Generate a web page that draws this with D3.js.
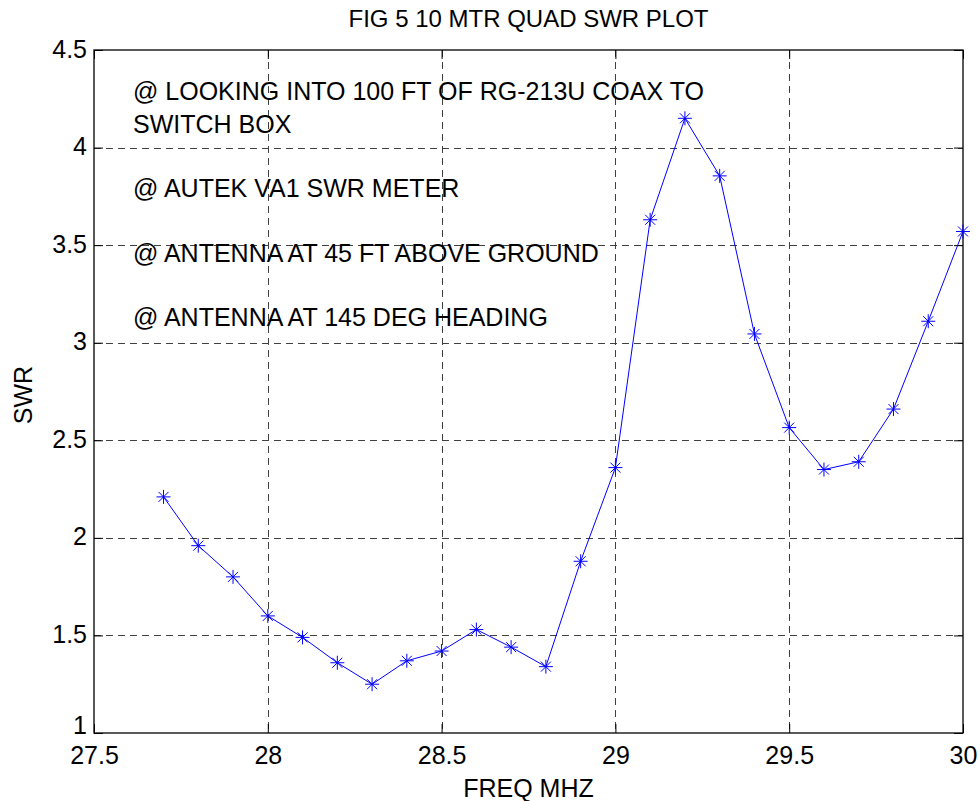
<!DOCTYPE html>
<html>
<head>
<meta charset="utf-8">
<script src="https://cdn.jsdelivr.net/npm/d3@7"></script>
<style>
  body { margin: 0; background: #fff; }
  svg { display: block; font-family: "Liberation Sans", Arial, sans-serif; }
</style>
</head>
<body>
<script>
// frequency (MHz) and measured SWR
const freq = [27.7, 27.8, 27.9, 28.0, 28.1, 28.2, 28.3, 28.4, 28.5, 28.6, 28.7, 28.8,
              28.9, 29.0, 29.1, 29.2, 29.3, 29.4, 29.5, 29.6, 29.7, 29.8, 29.9, 30.0];
const swr = [2.21, 1.96, 1.80, 1.60, 1.49, 1.36, 1.25, 1.37, 1.42, 1.53, 1.44, 1.34,
             1.88, 2.36, 3.63, 4.15, 3.855, 3.045, 2.565, 2.35, 2.39, 2.66, 3.11, 3.57];
const xTicks = [27.5, 28, 28.5, 29, 29.5, 30];
const yTicks = [1, 1.5, 2, 2.5, 3, 3.5, 4, 4.5];
const notes = [
  ["@ LOOKING INTO 100 FT OF RG-213U COAX TO", "SWITCH BOX"],
  ["@ AUTEK VA1 SWR METER"],
  ["@ ANTENNA AT 45 FT ABOVE GROUND"],
  ["@ ANTENNA AT 145 DEG HEADING"]
];

const width = 980, height = 801;
const margin = { left: 94, right: 17, top: 50, bottom: 68 };
const plotW = width - margin.left - margin.right;
const plotH = height - margin.top - margin.bottom;

const svg = d3.select("body").append("svg")
  .attr("width", width)
  .attr("height", height);

const x = d3.scaleLinear().domain([27.5, 30]).range([margin.left, margin.left + plotW]);
const y = d3.scaleLinear().domain([1, 4.5]).range([margin.top + plotH, margin.top]);

const fmt = d => String(d);

// grid
const grid = svg.append("g")
  .attr("stroke", "#404040")
  .attr("stroke-width", 1)
  .attr("stroke-dasharray", "7,5");
grid.selectAll(".gx")
  .data(xTicks.slice(1, -1))
  .join("line")
  .attr("x1", d => Math.round(x(d)) + 0.5).attr("x2", d => Math.round(x(d)) + 0.5)
  .attr("y1", margin.top).attr("y2", margin.top + plotH);
grid.selectAll(".gy")
  .data(yTicks.slice(1, -1))
  .join("line")
  .attr("y1", d => Math.round(y(d)) + 0.5).attr("y2", d => Math.round(y(d)) + 0.5)
  .attr("x1", margin.left).attr("x2", margin.left + plotW);

// axes (ticks inside, labels outside)
const tickLen = 9;
const axisBottom = svg.append("g")
  .attr("transform", `translate(0,${margin.top + plotH})`)
  .call(d3.axisBottom(x).tickValues(xTicks).tickFormat(fmt).tickSizeInner(-tickLen).tickSizeOuter(0).tickPadding(13));
const axisTop = svg.append("g")
  .attr("transform", `translate(0,${margin.top})`)
  .call(d3.axisTop(x).tickValues(xTicks).tickFormat("").tickSizeInner(-tickLen).tickSizeOuter(0));
const axisLeft = svg.append("g")
  .attr("transform", `translate(${margin.left},0)`)
  .call(d3.axisLeft(y).tickValues(yTicks).tickFormat(fmt).tickSizeInner(-tickLen).tickSizeOuter(0).tickPadding(7));
const axisRight = svg.append("g")
  .attr("transform", `translate(${margin.left + plotW},0)`)
  .call(d3.axisRight(y).tickValues(yTicks).tickFormat("").tickSizeInner(-tickLen).tickSizeOuter(0));

[axisBottom, axisTop, axisLeft, axisRight].forEach(a => {
  a.select(".domain").remove();
  a.selectAll("line").attr("stroke", "#000");
  a.selectAll("text")
    .attr("fill", "#000")
    .attr("font-size", 25)
    .attr("font-family", "Liberation Sans, Arial, sans-serif");
});
axisBottom.selectAll("text").attr("dy", "0.71em");
// lowest y label sits on the axis line, the rest are centred a bit above their tick
axisLeft.selectAll("text").attr("dy", d => d === yTicks[0] ? "0.02em" : "0.28em");

// box
svg.append("rect")
  .attr("x", margin.left).attr("y", margin.top)
  .attr("width", plotW).attr("height", plotH)
  .attr("fill", "none").attr("stroke", "#000").attr("stroke-width", 1.3);

// annotations
const noteY = [100, 197, 262, 326];
const lineGap = 33;
notes.forEach((lines, i) => {
  const t = svg.append("text")
    .attr("x", 133).attr("y", noteY[i])
    .attr("font-size", 25).attr("fill", "#000");
  lines.forEach((s, j) => {
    t.append("tspan").attr("x", 133).attr("dy", j === 0 ? 0 : lineGap).text(s);
  });
});

// line + markers
const data = freq.map((f, i) => ({ f, v: swr[i] }));
svg.append("path")
  .datum(data)
  .attr("fill", "none")
  .attr("stroke", "#0000ff")
  .attr("stroke-width", 1)
  .attr("d", d3.line().x(d => x(d.f)).y(d => y(d.v)));

const r = 7, rd = 5;
const marks = svg.append("g")
  .attr("stroke", "#0000ff")
  .attr("stroke-width", 1)
  .attr("fill", "none");
marks.selectAll("path")
  .data(data)
  .join("path")
  .attr("d", d => {
    const cx = x(d.f), cy = y(d.v);
    return `M${cx - r},${cy}H${cx + r}M${cx},${cy - r}V${cy + r}` +
      `M${cx - rd},${cy - rd}L${cx + rd},${cy + rd}M${cx - rd},${cy + rd}L${cx + rd},${cy - rd}`;
  });

// title and labels
svg.append("text")
  .attr("x", margin.left + plotW / 2).attr("y", 27)
  .attr("text-anchor", "middle").attr("font-size", 24)
  .text("FIG 5 10 MTR QUAD SWR PLOT");
svg.append("text")
  .attr("x", margin.left + plotW / 2).attr("y", 797)
  .attr("text-anchor", "middle").attr("font-size", 25)
  .text("FREQ MHZ");
svg.append("text")
  .attr("transform", `translate(32,395) rotate(-90)`)
  .attr("text-anchor", "middle").attr("font-size", 25)
  .text("SWR");
</script>
</body>
</html>
